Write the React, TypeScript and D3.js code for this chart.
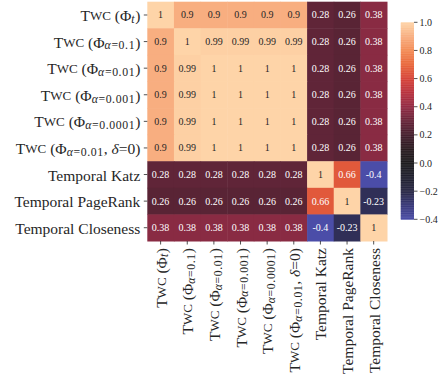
import React from "react";
import * as d3 from "d3";

// row / column labels, split into styled pieces (sc = small caps, i = italic, sub = subscript)
type Piece = [string, string];
const twc: Piece[] = [["T", "n"], ["WC", "sc"], [" (Φ", "n"]];
const labels: Piece[][] = [
  [...twc, ["t", "subi"], [")", "n"]],
  [...twc, ["α", "subi"], ["=0.1", "sub"], [")", "n"]],
  [...twc, ["α", "subi"], ["=0.01", "sub"], [")", "n"]],
  [...twc, ["α", "subi"], ["=0.001", "sub"], [")", "n"]],
  [...twc, ["α", "subi"], ["=0.0001", "sub"], [")", "n"]],
  [...twc, ["α", "subi"], ["=0.01", "sub"], [", ", "n"], ["δ", "i"], ["=0)", "n"]],
  [["Temporal Katz", "n"]],
  [["Temporal PageRank", "n"]],
  [["Temporal Closeness", "n"]],
];

const corr: number[][] = [
  [1, 0.9, 0.9, 0.9, 0.9, 0.9, 0.28, 0.26, 0.38],
  [0.9, 1, 0.99, 0.99, 0.99, 0.99, 0.28, 0.26, 0.38],
  [0.9, 0.99, 1, 1, 1, 1, 0.28, 0.26, 0.38],
  [0.9, 0.99, 1, 1, 1, 1, 0.28, 0.26, 0.38],
  [0.9, 0.99, 1, 1, 1, 1, 0.28, 0.26, 0.38],
  [0.9, 0.99, 1, 1, 1, 1, 0.28, 0.26, 0.38],
  [0.28, 0.28, 0.28, 0.28, 0.28, 0.28, 1, 0.66, -0.4],
  [0.26, 0.26, 0.26, 0.26, 0.26, 0.26, 0.66, 1, -0.23],
  [0.38, 0.38, 0.38, 0.38, 0.38, 0.38, -0.4, -0.23, 1],
];

const cbarTicks = [1.0, 0.8, 0.6, 0.4, 0.2, 0.0, -0.2, -0.4];

// icefire-like colormap, centred on 0, clipped to [-0.4, 1]
const cmapStops = [-0.4, -0.3, -0.2, -0.1, 0, 0.1, 0.2, 0.3, 0.4, 0.5, 0.6, 0.7, 0.8, 0.9, 1.0];
const cmapColors = [
  "#4b4da8", "#3a3a7a", "#2b2a48", "#222231", "#1e1d1f", "#2b1d22", "#45202e", "#67263a",
  "#922c45", "#b8323f", "#d6443a", "#e8673c", "#f38b55", "#f8ae80", "#fed4a8",
];

const FONT = "'Liberation Serif', 'Times New Roman', serif";

const Label = ({ parts, size }: { parts: Piece[]; size: number }) => {
  let shifted = false;
  return (
    <>
      {parts.map(([t, s], i) => {
        const isSub = s === "sub" || s === "subi";
        let dy = 0;
        if (isSub && !shifted) { dy = size * 0.25; shifted = true; }
        if (!isSub && shifted) { dy = -size * 0.25; shifted = false; }
        const fs = isSub ? size * 0.76 : s === "sc" ? size * 0.84 : size;
        return (
          <tspan key={i} dy={dy || undefined} fontSize={fs} letterSpacing={isSub ? 0.6 : undefined}
            fontStyle={s === "i" || s === "subi" ? "italic" : undefined}>{t}</tspan>
        );
      })}
    </>
  );
};

export default function App() {
  const width = 438, height = 385;
  const left = 147.3, right = 387, top = 1.7, bottom = 241;
  const n = labels.length;
  const idx = d3.range(n);
  const x = d3.scaleBand<number>().domain(idx).range([left, right]);
  const y = d3.scaleBand<number>().domain(idx).range([top, bottom]);
  const color = d3.scaleLinear<string>().domain(cmapStops).range(cmapColors).clamp(true);

  const cbX = 400.8, cbW = 13.2;
  const cbY = d3.scaleLinear().domain([-0.4, 1]).range([219.3, 22.3]);
  const steps = d3.range(-0.4, 1.0, 0.005);

  const textColor = (v: number) => {
    const c = d3.rgb(color(v));
    const lin = (u: number) => { u /= 255; return u <= 0.03928 ? u / 12.92 : Math.pow((u + 0.055) / 1.055, 2.4); };
    const lum = 0.2126 * lin(c.r) + 0.7152 * lin(c.g) + 0.0722 * lin(c.b);
    return lum > 0.408 ? "#262626" : "#ffffff";
  };
  const fmt = (v: number) => String(+v.toPrecision(2));
  const labelSize = 15.5;

  return (
    <svg width={width} height={height} style={{ position: "absolute", left: 0, top: 0 }} fontFamily={FONT}>
      <rect width={width} height={height} fill="#fff" />
      {corr.map((row, r) =>
        row.map((v, c) => (
          <g key={`${r}-${c}`}>
            <rect x={x(c)} y={y(r)} width={x.bandwidth() + 0.5} height={y.bandwidth() + 0.5} fill={color(v)} />
            <text x={x(c)! + x.bandwidth() / 2} y={y(r)! + y.bandwidth() / 2} textAnchor="middle"
              dominantBaseline="central" fontSize={10} fill={textColor(v)}>{fmt(v)}</text>
          </g>
        ))
      )}
      {/* y axis */}
      {labels.map((l, i) => {
        const cy = y(i)! + y.bandwidth() / 2;
        return (
          <g key={`y${i}`}>
            <line x1={left - 3.5} x2={left} y1={cy} y2={cy} stroke="#262626" strokeWidth={0.8} />
            <text x={left - 7} y={cy} textAnchor="end" dominantBaseline="central" fill="#262626" fontSize={labelSize}>
              <Label parts={l} size={labelSize} />
            </text>
          </g>
        );
      })}
      {/* x axis */}
      {labels.map((l, i) => {
        const cx = x(i)! + x.bandwidth() / 2;
        return (
          <g key={`x${i}`}>
            <line x1={cx} x2={cx} y1={bottom} y2={bottom + 3.5} stroke="#262626" strokeWidth={0.8} />
            <text transform={`translate(${cx},${bottom + 7}) rotate(-90)`} textAnchor="end"
              dominantBaseline="central" fill="#262626" fontSize={labelSize}>
              <Label parts={l} size={labelSize} />
            </text>
          </g>
        );
      })}
      {/* colorbar */}
      {steps.map((s, i) => (
        <rect key={`cb${i}`} x={cbX} width={cbW} y={cbY(s + 0.005)} height={cbY(s) - cbY(s + 0.005) + 0.4} fill={color(s + 0.0025)} />
      ))}
      {cbarTicks.map((t) => (
        <g key={`t${t}`}>
          <line x1={cbX + cbW} x2={cbX + cbW + 3.5} y1={cbY(t)} y2={cbY(t)} stroke="#262626" strokeWidth={0.8} />
          <text x={cbX + cbW + 5.5} y={cbY(t)} dominantBaseline="central" fontSize={10} fill="#262626">
            {t < 0 ? "\u2212" + Math.abs(t).toFixed(1) : t.toFixed(1)}
          </text>
        </g>
      ))}
    </svg>
  );
}
